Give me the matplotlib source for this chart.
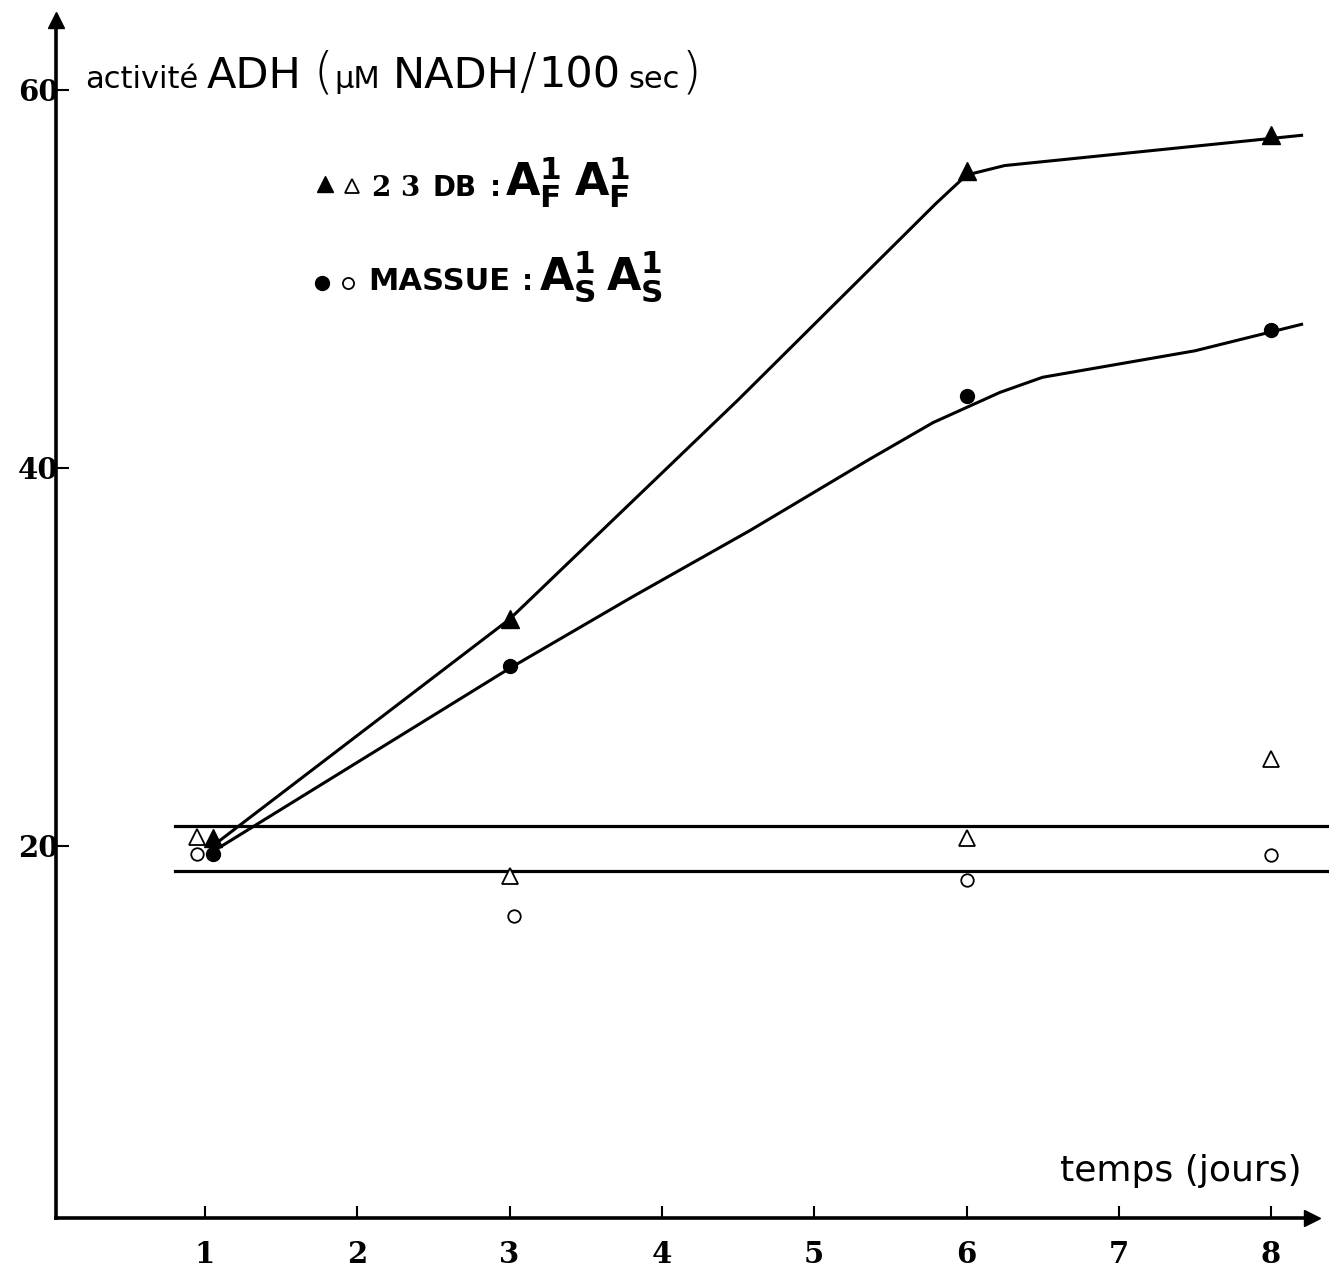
import numpy as np
import matplotlib
matplotlib.use("Agg")
import matplotlib.pyplot as plt

# days and ADH activity
days_filled = [1.05, 3.0, 6.0, 8.0]
tri_filled = [20.4, 32.0, 55.7, 57.6]      # 23DB, filled triangles
circ_filled = [19.6, 29.5, 43.8, 47.3]     # MASSUE, filled circles

days_open_tri = [0.95, 3.0, 6.0, 8.0]
tri_open = [20.5, 18.4, 20.4, 24.6]
days_open_circ = [0.95, 3.03, 6.0, 8.0]
circ_open = [19.6, 16.3, 18.2, 19.5]

# hand drawn curves through the filled points
tri_curve_x = [1.05, 3.0, 4.5, 5.8, 6.0, 6.25, 8.2]
tri_curve_y = [20.0, 32.0, 43.6, 54.0, 55.5, 56.0, 57.6]
circ_curve_x = [1.05, 3.0, 3.81, 4.58, 5.35, 5.78, 6.22, 6.5, 7.5, 8.2]
circ_curve_y = [19.7, 29.4, 33.2, 36.7, 40.4, 42.4, 44.0, 44.8, 46.2, 47.6]

# horizontal band of the controls
band = [21.06, 18.7]

xticks = [1, 2, 3, 4, 5, 6, 7, 8]
yticks = [20, 40, 60]

W, H = 1329, 1268
fig = plt.figure(figsize=(W / 100, H / 100), dpi=100)
ax = fig.add_axes([52.7 / W, 44 / H, 1 - 52.7 / W, 1 - 44 / H])
ax.set_xlim(0, 8.38)
ax.set_ylim(0, 64.76)

for s in ['top', 'right']:
    ax.spines[s].set_visible(False)
ax.spines['bottom'].set_position(('data', 0.32))
ax.spines['left'].set_position(('data', 0.02))
ax.spines['bottom'].set_bounds(0.02, 8.22)
ax.spines['left'].set_bounds(0.32, 63.3)
for s in ['bottom', 'left']:
    ax.spines[s].set_linewidth(2.6)
ax.plot([8.27], [0.32], marker='>', ms=12, color='black', clip_on=False)
ax.plot([0.02], [63.7], marker='^', ms=12, color='black', clip_on=False)

ax.set_xticks(xticks)
ax.set_yticks(yticks)
ax.tick_params(axis='x', direction='in', length=9, width=1.5, pad=16)
ax.tick_params(axis='y', direction='in', length=9, width=1.5, pad=-2)
for lab in ax.get_xticklabels() + ax.get_yticklabels():
    lab.set_family('DejaVu Serif')
    lab.set_fontweight('bold')
    lab.set_fontsize(21)

# control band
for b in band:
    ax.plot([0.8, 8.38], [b, b], color='black', lw=2.3, clip_on=False)

# fitted curves
ax.plot(tri_curve_x, tri_curve_y, color='black', lw=2.2)
ax.plot(circ_curve_x, circ_curve_y, color='black', lw=2.2)

ax.plot(days_filled, tri_filled, ls='none', marker='^', ms=13, color='black')
ax.plot(days_filled, circ_filled, ls='none', marker='o', ms=10, color='black')
ax.plot(days_open_tri, tri_open, ls='none', marker='^', ms=11, mfc='white',
        mec='black', mew=1.3)
ax.plot(days_open_circ, circ_open, ls='none', marker='o', ms=9, mfc='white',
        mec='black', mew=1.3)

ax.text(8.2, 2.8, 'temps (jours)', ha='right', va='center', fontsize=26,
        family='DejaVu Sans')

renderer = fig.canvas.get_renderer()


def write_row(x0, y0, pieces):
    # pieces written one after another, x0/y0 in pixels from top left
    x = x0
    for s, gap, kw in pieces:
        t = fig.text((x + gap) / W, 1 - y0 / H, s, va='baseline', **kw)
        bb = t.get_window_extent(renderer)
        x = bb.x1


small = dict(fontsize=22, family='DejaVu Sans')
big = dict(fontsize=31, family='DejaVu Sans')
paren = dict(fontsize=36, family='DejaVu Sans', fontweight='light')
write_row(85, 88, [
    ('activité', 0, small),
    ('ADH', 8, big),
    ('(', 12, paren),
    ('µM', 2, small),
    ('NADH', 12, big),
    ('/', 0, paren),
    ('100', 2, big),
    ('sec', 8, small),
    (')', 2, paren),
])

bold = dict(fontsize=20, family='DejaVu Sans', fontweight='bold')
serif = dict(fontsize=20, family='DejaVu Serif', fontweight='bold')
allele = dict(fontsize=32, family='DejaVu Sans')
write_row(372, 196, [
    ('2 3', 0, serif),
    ('DB', 12, bold),
    (':', 14, bold),
    (r'$\mathbf{A}_{\mathbf{F}}^{\mathbf{1}}$', 4, allele),
    (r'$\mathbf{A}_{\mathbf{F}}^{\mathbf{1}}$', 12, allele),
])
write_row(368, 290, [
    ('MASSUE', 0, dict(bold, fontsize=22)),
    (':', 12, bold),
    (r'$\mathbf{A}_{\mathbf{S}}^{\mathbf{1}}$', 6, allele),
    (r'$\mathbf{A}_{\mathbf{S}}^{\mathbf{1}}$', 10, allele),
])

# legend markers
fig.lines.append(plt.Line2D([325 / W], [1 - 184 / H], marker='^', ms=12,
                            color='black', transform=fig.transFigure))
fig.lines.append(plt.Line2D([352 / W], [1 - 186 / H], marker='^', ms=10,
                            mfc='white', mec='black', mew=1.3,
                            transform=fig.transFigure))
fig.lines.append(plt.Line2D([322 / W], [1 - 283 / H], marker='o', ms=10,
                            color='black', transform=fig.transFigure))
fig.lines.append(plt.Line2D([348 / W], [1 - 283 / H], marker='o', ms=8,
                            mfc='white', mec='black', mew=1.3,
                            transform=fig.transFigure))

fig.savefig('out.png', dpi=100)
